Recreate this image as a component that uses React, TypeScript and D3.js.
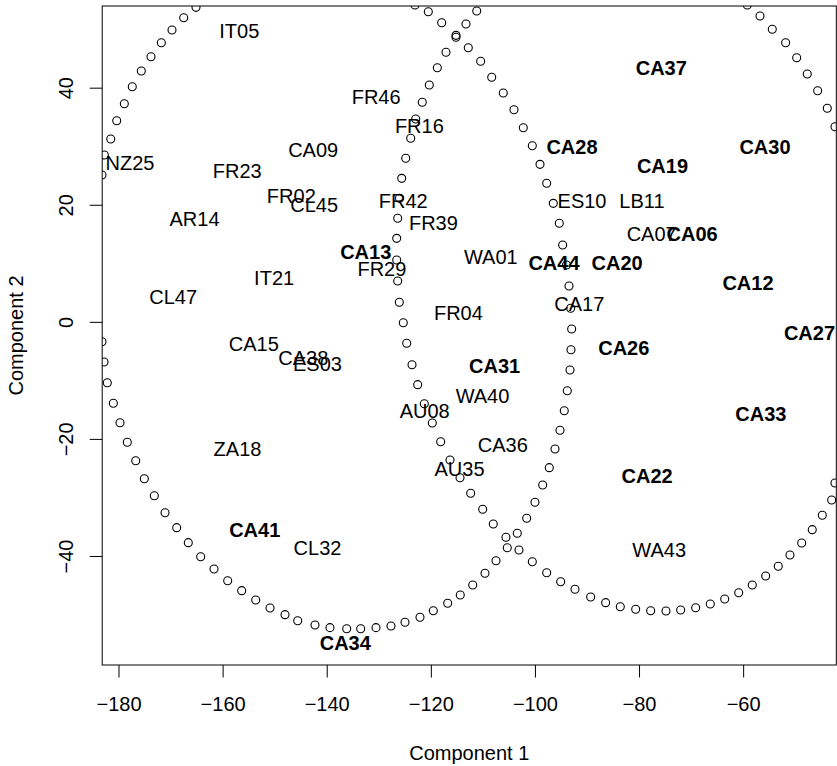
import React from "react";
import * as d3 from "d3";

// ---- Data ----
const labelNames = [
  "IT05", "NZ25", "FR23", "AR14", "FR02", "CL45", "CA09", "FR46", "FR16", "FR42",
  "FR39", "CA28", "ES10", "LB11", "CA37", "CA19", "CA30", "CA07", "CA06", "CA13",
  "FR29", "IT21", "CL47", "WA01", "CA44", "CA20", "CA12", "CA17", "FR04", "CA27",
  "CA15", "CA38", "ES03", "CA31", "CA26", "WA40", "AU08", "CA33", "ZA18", "CA36",
  "AU35", "CA22", "CA41", "CL32", "WA43", "CA34",
];
const labelX = [
  -156.9, -177.9, -157.3, -165.5, -146.9, -142.5, -142.7, -130.6, -122.3, -125.4,
  -119.6, -92.98, -91.05, -79.53, -75.82, -75.59, -55.9, -77.67, -69.9, -132.6,
  -129.5, -150.2, -169.6, -108.57, -96.44, -84.3, -59.17, -91.57, -114.8, -47.35,
  -154.1, -144.6, -141.87, -107.83, -83.03, -110.17, -121.27, -56.7, -157.24, -106.27,
  -114.59, -78.54, -153.93, -141.87, -76.23, -136.53,
];
const labelY = [
  49.85, 27.27, 25.94, 17.68, 21.67, 19.99, 29.44, 38.54, 33.65, 20.67,
  17.05, 29.95, 20.7, 20.7, 43.47, 26.73, 29.95, 15.14, 15.14, 12.01,
  9.14, 7.66, 4.38, 11.16, 10.08, 10.08, 6.75, 3.1, 1.68, -1.74,
  -3.73, -6.09, -7.03, -7.37, -4.3, -12.56, -15.18, -15.69, -21.58, -20.92,
  -25.08, -26.22, -35.47, -38.52, -38.89, -54.69,
];
const boldLabels = [
  "CA28", "CA37", "CA19", "CA30", "CA06", "CA13", "CA44", "CA20", "CA12", "CA27",
  "CA31", "CA26", "CA33", "CA22", "CA41", "CA34",
];

// Left ring of open circles (visible points)
const ring1X = [
  -183.27, -182.82, -181.59, -180.44, -178.98, -177.45, -175.72, -173.85, -171.87, -169.82, -167.57, -165.21,
  -123.14, -120.58, -118.01, -115.26, -112.9, -110.52, -108.4, -106.18, -104.12, -102.33, -100.6, -99.12,
  -97.84, -96.57, -95.42, -94.77, -94.03, -93.55, -93.23, -93.04, -93.17, -93.36, -93.88, -94.46,
  -95.28, -96.24, -97.34, -98.61, -100.09, -101.68, -103.49, -105.41, -107.58, -109.69, -112.05, -114.44,
  -116.86, -119.62, -122.18, -125.06, -127.75, -130.63, -133.57, -136.26, -139.47, -142.35, -145.67, -148.11,
  -150.99, -153.74, -156.43, -159.12, -161.75, -164.31, -166.69, -168.92, -171.16, -173.22, -175.14, -176.79,
  -178.41, -179.81, -181.09, -182.25, -182.88, -183.27,
];
const ring1Y = [
  25.17, 28.58, 31.32, 34.44, 37.35, 40.25, 42.93, 45.38, 47.77, 49.94, 52.04, 53.81,
  54.2, 53.06, 51.18, 49.03, 46.91, 44.59, 41.86, 39.18, 36.32, 33.25, 30.17, 26.99,
  23.75, 20.33, 16.92, 13.21, 9.79, 6.21, 2.4, -1.14, -4.68, -8.14, -11.68, -15.1,
  -18.44, -21.64, -24.83, -27.79, -30.74, -33.48, -36.04, -38.5, -40.72, -42.87, -44.87, -46.58,
  -48.0, -49.26, -50.39, -51.24, -51.87, -52.16, -52.34, -52.34, -52.16, -51.7, -50.97, -49.94,
  -48.8, -47.43, -45.84, -44.14, -42.14, -40.04, -37.64, -35.08, -32.52, -29.62, -26.71, -23.64,
  -20.49, -17.15, -13.83, -10.31, -6.78, -3.31,
];

// Right ring of open circles (visible points)
const ring2X = [
  -111.28, -113.34, -115.26, -117.18, -118.85, -120.39, -121.74, -123.0, -123.96, -124.92, -125.69, -126.12,
  -126.46, -126.65, -126.65, -126.46, -126.15, -125.39, -124.73, -123.71, -122.62, -121.35, -119.81, -118.2,
  -116.41, -114.49, -112.44, -110.13, -108.1, -105.66, -103.16, -100.6, -97.84, -95.15, -92.4, -89.39,
  -86.51, -83.7, -80.74, -77.86, -74.92, -72.1, -69.22, -66.41, -63.64, -60.95, -58.34, -55.77,
  -53.35, -51.1, -48.85, -46.82, -44.89, -43.09, -42.45,
  -59.3, -56.86, -54.5, -51.93, -49.81, -47.78, -45.78, -43.93, -42.45,
];
const ring2Y = [
  53.18, 50.96, 48.69, 46.13, 43.5, 40.54, 37.59, 34.73, 31.44, 28.02, 24.6, 21.19,
  17.77, 14.35, 10.65, 7.06, 3.42, -0.06, -3.58, -7.24, -10.65, -13.9, -17.2, -20.39,
  -23.52, -26.54, -29.21, -31.94, -34.45, -36.72, -38.89, -40.89, -42.77, -44.31, -45.6, -46.92,
  -47.89, -48.58, -49.02, -49.26, -49.31, -49.14, -48.75, -48.12, -47.26, -46.19, -44.87, -43.33,
  -41.68, -39.75, -37.7, -35.42, -32.96, -30.35, -27.45,
  54.2, 52.33, 50.06, 47.77, 45.21, 42.42, 39.57, 36.56, 33.42,
];

const xTicks = [-180, -160, -140, -120, -100, -80, -60];
const yTicks = [-40, -20, 0, 20, 40];
const xTitle = "Component 1";
const yTitle = "Component 2";

const xDomain = [-183.23, -42.2];
const yDomain = [-58.54, 54.04];

const FONT = "'Liberation Sans', Arial, Helvetica, sans-serif";
const fmt = (d: number) => (d < 0 ? "\u2212" + Math.abs(d) : String(d));

export default function App() {
  const W = 837;
  const H = 766;
  const plot = { left: 102.2, right: 836.3, top: 6, bottom: 665 };
  const x = d3.scaleLinear().domain(xDomain).range([plot.left, plot.right]);
  const y = d3.scaleLinear().domain(yDomain).range([plot.bottom, plot.top]);
  const fs = 20;
  const capHalf = fs * 0.716 / 2;
  const tickLen = 12.5;

  const ring1 = ring1X.map((v, i) => [v, ring1Y[i]]);
  const ring2 = ring2X.map((v, i) => [v, ring2Y[i]]);
  const cy = (plot.top + plot.bottom) / 2;
  const cx = (plot.left + plot.right) / 2;

  return (
    <div style={{ position: "fixed", left: 0, top: 0, width: W, height: H, background: "#fff" }}>
      <svg width={W} height={H} style={{ display: "block" }} fontFamily={FONT}>
        <defs>
          <clipPath id="plotclip">
            <rect x={plot.left} y={plot.top} width={plot.right - plot.left} height={plot.bottom - plot.top} />
          </clipPath>
        </defs>
        <rect x={0} y={0} width={W} height={H} fill="#fff" />
        <g clipPath="url(#plotclip)">
          {[...ring1, ...ring2].map((p, i) => (
            <circle key={"c" + i} cx={x(p[0])} cy={y(p[1])} r={4} fill="none" stroke="#000" strokeWidth={1.1} />
          ))}
          {labelNames.map((n, i) => (
            <text
              key={n}
              x={x(labelX[i])}
              y={y(labelY[i]) + capHalf}
              textAnchor="middle"
              fontSize={fs}
              fontWeight={boldLabels.includes(n) ? "bold" : "normal"}
              fill="#000"
            >
              {n}
            </text>
          ))}
        </g>
        <rect
          x={plot.left}
          y={plot.top}
          width={plot.right - plot.left}
          height={plot.bottom - plot.top}
          fill="none"
          stroke="#000"
          strokeWidth={1}
        />
        {xTicks.map((t) => (
          <g key={"xt" + t}>
            <line x1={x(t)} x2={x(t)} y1={plot.bottom} y2={plot.bottom + tickLen} stroke="#000" strokeWidth={1} />
            <text x={x(t)} y={plot.bottom + 38.7 + capHalf} textAnchor="middle" fontSize={fs} fill="#000">
              {fmt(t)}
            </text>
          </g>
        ))}
        {yTicks.map((t) => (
          <g key={"yt" + t}>
            <line x1={plot.left - tickLen} x2={plot.left} y1={y(t)} y2={y(t)} stroke="#000" strokeWidth={1} />
            <text
              transform={`translate(${65.5 + capHalf},${y(t)}) rotate(-90)`}
              textAnchor="middle"
              fontSize={fs}
              fill="#000"
            >
              {fmt(t)}
            </text>
          </g>
        ))}
        <text x={cx} y={752.5 + capHalf} textAnchor="middle" fontSize={fs} fill="#000">
          {xTitle}
        </text>
        <text transform={`translate(${15.8 + capHalf},${cy}) rotate(-90)`} textAnchor="middle" fontSize={fs} fill="#000">
          {yTitle}
        </text>
      </svg>
    </div>
  );
}
